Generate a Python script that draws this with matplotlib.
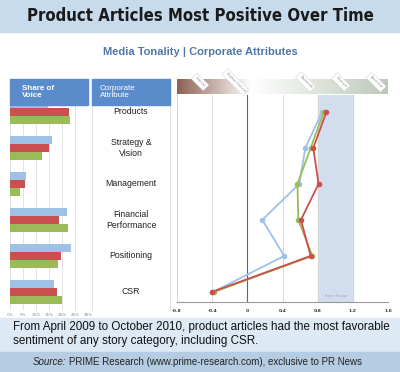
import numpy as np
import matplotlib.pyplot as plt
from matplotlib.patches import Rectangle

# data
attributes = ['Products', 'Strategy &\nVision', 'Management', 'Financial\nPerformance', 'Positioning', 'CSR']
share_blue = [14.5, 16.0, 6.3, 22.0, 23.3, 16.9]
share_red = [22.7, 14.9, 5.8, 18.8, 19.6, 18.1]
share_green = [23.0, 12.3, 4.0, 22.3, 18.6, 19.9]
tone_blue = [0.85, 0.66, 0.59, 0.17, 0.42, -0.39]
tone_red = [0.90, 0.75, 0.81, 0.61, 0.72, -0.40]
tone_green = [0.87, 0.72, 0.57, 0.58, 0.74, -0.38]
share_ticks = [0, 5, 10, 15, 20, 25, 30]
tone_ticks = [-0.8, -0.4, 0, 0.4, 0.8, 1.2, 1.6]
tone_ticklabels = ['-0.8', '-0.4', '0', '0.4', '0.8', '1.2', '1.6']
tag_pos = [-0.4, 0, 0.8, 1.2, 1.6]
tag_text = ['Critical', 'Rather Critical', 'Balanced', 'Positive', 'Excellent']

BLUE = '#9fc1e6'
RED = '#c9504f'
GREEN = '#9bbb59'

W, H = 400, 372
fig = plt.figure(figsize=(4, 3.72), dpi=100)
fig.patch.set_facecolor('white')

def box(x0, y0, x1, y1):
    # pixel box (top-left origin) -> figure fraction [l, b, w, h]
    return [x0 / W, 1 - y1 / H, (x1 - x0) / W, (y1 - y0) / H]

def rect(x0, y0, x1, y1, **kw):
    l, b, w, h = box(x0, y0, x1, y1)
    fig.patches.append(Rectangle((l, b), w, h, transform=fig.transFigure, **kw))

# title band
rect(0, 0, 400, 32, color='#c8dbec', zorder=0)
fig.text(0.5, 1 - 16 / H, 'Product Articles Most Positive Over Time',
         family='DejaVu Sans', fontstretch='condensed', weight='bold',
         fontsize=12, ha='center', va='center', color='#1a1a1a')
fig.text(0.5, 1 - 52 / H, 'Media Tonality | Corporate Attributes',
         fontsize=8, weight='bold', color='#4f78a8', ha='center', va='center',
         family='Liberation Sans')

# share of voice bars
idx = np.arange(len(attributes))
h = 0.222
axb = fig.add_axes(box(10, 94, 88, 310))
axb.barh(idx - h, share_blue, height=h, color=BLUE, zorder=2)
axb.barh(idx, share_red, height=h, color=RED, zorder=2)
axb.barh(idx + h, share_green, height=h, color=GREEN, zorder=2)
axb.set_xlim(0, 30)
axb.set_ylim(5.5, -0.5)
axb.set_xticks(share_ticks)
axb.set_xticklabels([f'{t}%' for t in share_ticks], fontsize=3, color='#888888')
axb.set_yticks([])
axb.tick_params(axis='x', length=0, pad=2)
axb.grid(axis='x', color='#dddddd', lw=0.6, zorder=0)
for s in axb.spines.values():
    s.set_visible(False)

# label column
axl = fig.add_axes(box(92, 94, 170, 310))
axl.set_xlim(0, 1)
axl.set_ylim(5.5, -0.5)
for i, name in enumerate(attributes):
    axl.text(0.5, i, name, ha='center', va='center', fontsize=6.3,
             family='Liberation Sans', color='#222222', linespacing=1.3)
axl.set_xticks([])
axl.set_yticks([])
for k in ['top', 'bottom']:
    axl.spines[k].set_visible(False)
for k in ['left', 'right']:
    axl.spines[k].set_color('#dddddd')
    axl.spines[k].set_linewidth(0.6)

# header boxes
rect(10, 79, 88, 105, color='#5a8ccb', zorder=5)
rect(92, 79, 170, 105, color='#5a8ccb', zorder=5)
fig.text(22 / W, 1 - 92 / H, 'Share of\nVoice', fontsize=5.8, weight='bold', color='white',
         va='center', ha='left', family='Liberation Sans', zorder=6, linespacing=1.1)
fig.text(100 / W, 1 - 92 / H, 'Corporate\nAttribute', fontsize=5.8, color='white',
         va='center', ha='left', family='Liberation Sans', zorder=6, linespacing=1.1)

# tonality chart
axt = fig.add_axes(box(177, 95, 388, 302))
axt.axvspan(0.8, 1.2, color='#d2deee', zorder=0)
for t in tone_ticks:
    axt.axvline(t, color='#666666' if t == 0 else '#d6d6d6', lw=0.8 if t == 0 else 0.7, zorder=1)
axt.plot(tone_blue, idx, color=BLUE, lw=1.3, marker='o', ms=3, zorder=3)
axt.plot(tone_green, idx, color=GREEN, lw=1.3, marker='o', ms=3, zorder=4)
axt.plot(tone_red, idx, color=RED, lw=1.3, marker='o', ms=3, zorder=5)
axt.text(1.0, 5.12, 'Target Range', fontsize=2.5, color='#99aacc', ha='center', va='center')
axt.set_xlim(-0.8, 1.6)
axt.set_ylim(5.28, -0.47)
axt.set_xticks(tone_ticks)
axt.set_xticklabels(tone_ticklabels, fontsize=3.2, weight='bold', color='#333333')
axt.tick_params(axis='x', length=0, pad=5)
axt.set_yticks([])
for k in ['top', 'left', 'right']:
    axt.spines[k].set_visible(False)
axt.spines['bottom'].set_color('#999999')
axt.spines['bottom'].set_linewidth(0.8)

# gradient tonality band above the chart
axg = fig.add_axes(box(177, 79, 388, 94))
grad = np.linspace(0, 1, 256)
c_left = np.array([0.55, 0.38, 0.32])
c_mid = np.array([1.0, 1.0, 1.0])
c_right = np.array([0.74, 0.79, 0.73])
cols = np.zeros((1, 256, 3))
for j, g in enumerate(grad):
    if g < 0.35:
        f = g / 0.35
        cols[0, j] = c_left * (1 - f) + c_mid * f
    else:
        f = (g - 0.35) / 0.65
        cols[0, j] = c_mid * (1 - f) + c_right * f
axg.imshow(cols, aspect='auto', extent=(-0.8, 1.6, 0, 1))
axg.set_xlim(-0.8, 1.6)
axg.set_ylim(0, 1)
axg.axis('off')
for p, t in zip(tag_pos, tag_text):
    fig.text((177 + (p + 0.8) / 2.4 * 211 - 12) / W, 1 - 82 / H, t, fontsize=2.5,
             color='#888888', rotation=-45, ha='center', va='center', zorder=7,
             bbox=dict(boxstyle='square,pad=0.6', fc='white', ec='#cccccc', lw=0.3))

# bottom caption
rect(0, 318, 400, 352, color='#dde9f4', zorder=0)
fig.text(13 / W, 1 - 321 / H,
         'From April 2009 to October 2010, product articles had the most favorable\n'
         'sentiment of any story category, including CSR.',
         fontsize=8.4, family='Liberation Sans', va='top', ha='left', color='#111111',
         linespacing=1.2)
rect(0, 352, 400, 372, color='#b5cce2', zorder=0)
fig.text(66 / W, 1 - 362 / H, 'Source:', fontsize=7, family='Liberation Sans',
         style='italic', ha='right', va='center', color='#222222')
fig.text(69 / W, 1 - 362 / H,
         'PRIME Research (www.prime-research.com), exclusive to PR News',
         fontsize=7, family='Liberation Sans', ha='left', va='center', color='#222222')

fig.savefig('out.png', dpi=100)
